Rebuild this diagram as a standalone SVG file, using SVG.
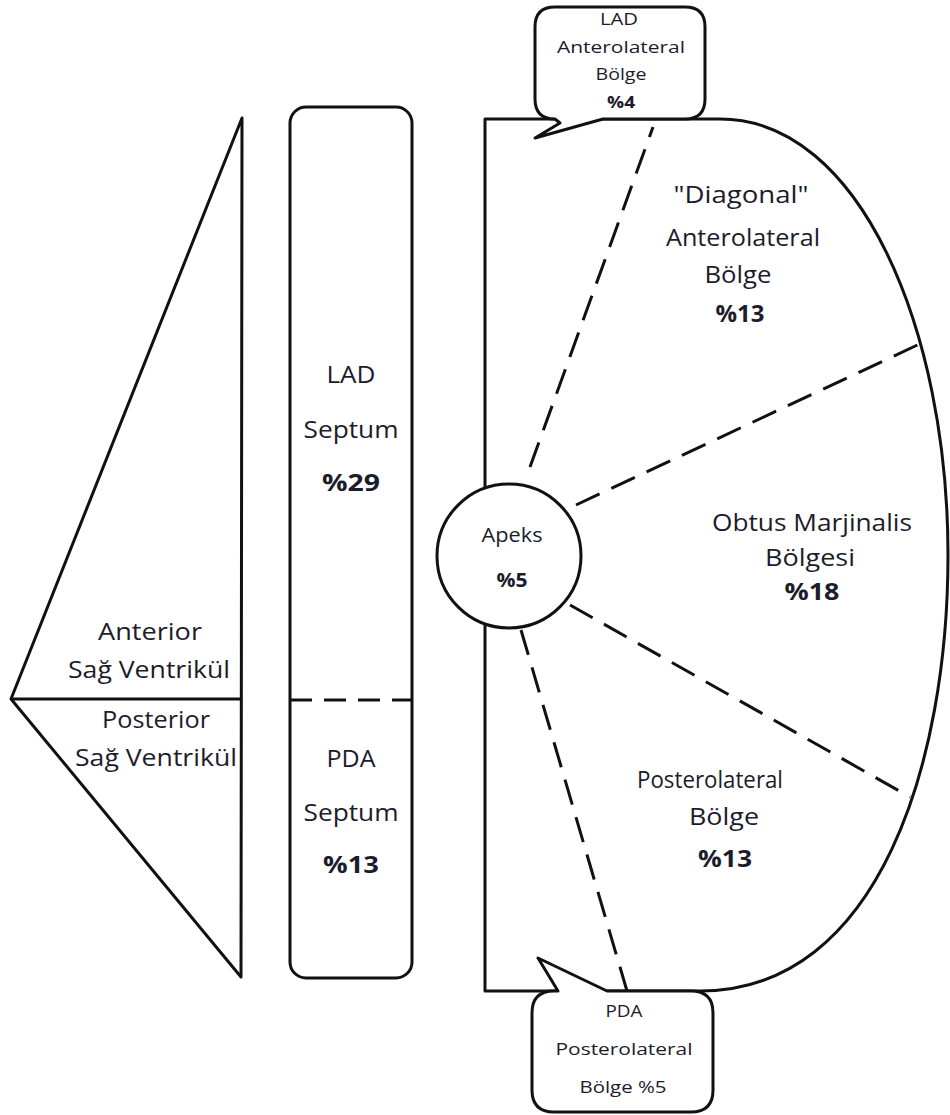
<svg xmlns="http://www.w3.org/2000/svg" width="950" height="1115" viewBox="0 0 950 1115">
<style>
.ln{fill:none;stroke:#111;stroke-width:3;stroke-linejoin:round}
.wf{fill:#fff;stroke:#111;stroke-width:3;stroke-linejoin:round}
.ds{fill:none;stroke:#111;stroke-width:3;stroke-dasharray:26 13}
text{font-family:"Open Sans","Noto Sans",sans-serif;fill:#1c1c2c;text-anchor:middle}
.L{font-size:24px}
.S{font-size:16px}
.M{font-size:20px}
.b{font-weight:bold}
</style>
<rect width="950" height="1115" fill="#fff"/>
<g id="right-ventricle">
<path class="ln" d="M242,118 L241,977 L11,699 Z M11,699 H241"/>
<text class="L" x="150" y="640" textLength="104" lengthAdjust="spacingAndGlyphs">Anterior</text>
<text class="L" x="149" y="678" textLength="162" lengthAdjust="spacingAndGlyphs">Sağ Ventrikül</text>
<text class="L" x="156" y="728" textLength="108" lengthAdjust="spacingAndGlyphs">Posterior</text>
<text class="L" x="156" y="766" textLength="162" lengthAdjust="spacingAndGlyphs">Sağ Ventrikül</text>
</g>
<g id="septum">
<rect class="ln" x="290" y="107" width="122" height="871" rx="16"/>
<path class="ds" d="M290,700 H412" style="stroke-dasharray:22 12"/>
<text class="L" x="351" y="383" textLength="49" lengthAdjust="spacingAndGlyphs">LAD</text>
<text class="L" x="351" y="438" textLength="95" lengthAdjust="spacingAndGlyphs">Septum</text>
<text class="L b" x="351" y="491" textLength="58" lengthAdjust="spacingAndGlyphs">%29</text>
<text class="L" x="351" y="767" textLength="49" lengthAdjust="spacingAndGlyphs">PDA</text>
<text class="L" x="351" y="821" textLength="95" lengthAdjust="spacingAndGlyphs">Septum</text>
<text class="L b" x="351" y="873" textLength="56" lengthAdjust="spacingAndGlyphs">%13</text>
</g>
<g id="left-ventricle">
<path class="ln" d="M485,119 H720 C860,119 948,330 948,555 C948,760 880,991 700,991 H485 Z"/>
<text class="L" x="741" y="203" textLength="135" lengthAdjust="spacingAndGlyphs">"Diagonal"</text>
<text class="L" x="743" y="246" textLength="154" lengthAdjust="spacingAndGlyphs">Anterolateral</text>
<text class="L" x="738" y="283" textLength="67" lengthAdjust="spacingAndGlyphs">Bölge</text>
<text class="L b" x="740" y="322" textLength="49" lengthAdjust="spacingAndGlyphs">%13</text>
<text class="L" x="812" y="531" textLength="200" lengthAdjust="spacingAndGlyphs">Obtus Marjinalis</text>
<text class="L" x="810" y="566" textLength="90" lengthAdjust="spacingAndGlyphs">Bölgesi</text>
<text class="L b" x="812" y="600" textLength="55" lengthAdjust="spacingAndGlyphs">%18</text>
<text class="L" x="710" y="788" textLength="146" lengthAdjust="spacingAndGlyphs">Posterolateral</text>
<text class="L" x="724" y="825" textLength="70" lengthAdjust="spacingAndGlyphs">Bölge</text>
<text class="L b" x="725" y="867" textLength="54" lengthAdjust="spacingAndGlyphs">%13</text>
</g>
<g id="connectors">
<path class="ds" d="M530,467 L653,127"/>
<path class="ds" d="M576,505 L928,340"/>
<path class="ds" d="M570,605 L910,797"/>
<path class="ds" d="M521,630 L627,991"/>
</g>
<g id="apex">
<circle class="wf" cx="509" cy="556" r="72"/>
<text class="M" x="512" y="542" textLength="61" lengthAdjust="spacingAndGlyphs">Apeks</text>
<text class="M b" x="512" y="587" textLength="31" lengthAdjust="spacingAndGlyphs">%5</text>
</g>
<g id="callout-top">
<path class="wf" d="M555,119 L560,123 L535,138 L603,119 H685 Q705,119 705,99 V27 Q705,7 685,7 H555 Q535,7 535,27 V99 Q535,119 555,119 Z"/>
<text class="S" x="619" y="25" textLength="38" lengthAdjust="spacingAndGlyphs">LAD</text>
<text class="S" x="621" y="53" textLength="128" lengthAdjust="spacingAndGlyphs">Anterolateral</text>
<text class="S" x="621" y="80" textLength="51" lengthAdjust="spacingAndGlyphs">Bölge</text>
<text class="S b" x="621" y="108" textLength="28" lengthAdjust="spacingAndGlyphs">%4</text>
</g>
<g id="callout-bottom">
<path class="wf" d="M554,991 H558 L538,958 L607,991 H691 Q713,991 713,1013 V1090 Q713,1112 691,1112 H554 Q532,1112 532,1090 V1013 Q532,991 554,991 Z"/>
<text class="S" x="624" y="1017" textLength="37" lengthAdjust="spacingAndGlyphs">PDA</text>
<text class="S" x="624" y="1055" textLength="137" lengthAdjust="spacingAndGlyphs">Posterolateral</text>
<text class="S" x="623" y="1093" textLength="87" lengthAdjust="spacingAndGlyphs">Bölge %5</text>
</g>
</svg>
